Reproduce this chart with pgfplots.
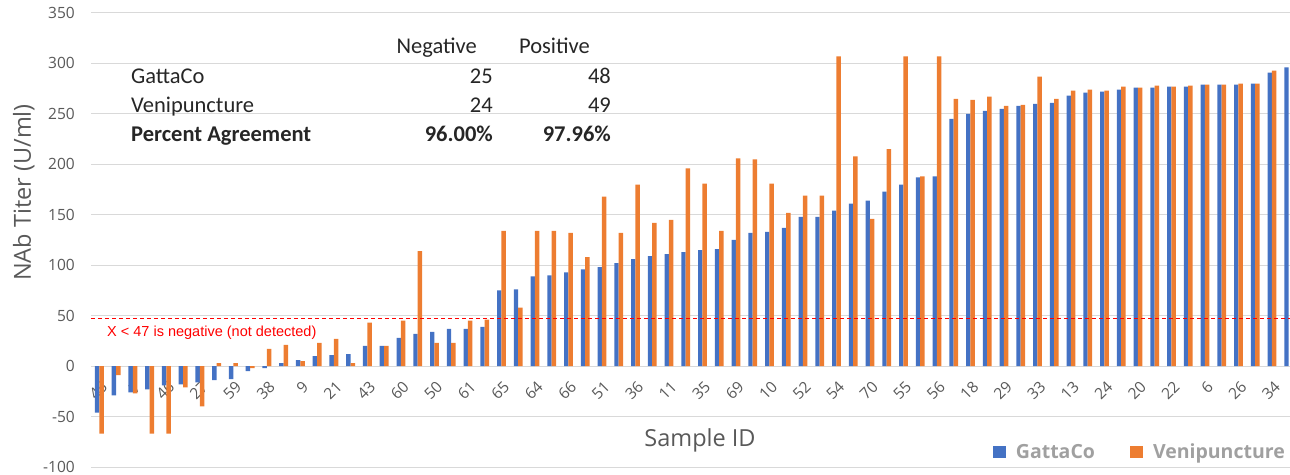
\documentclass[border=0pt]{standalone}
\usepackage{fontspec}
\usepackage{pgfplots}
\usepackage{pgfplotstable}
\pgfplotsset{compat=1.18}
\setmainfont{Open Sans}
\newfontfamily\carlito{Carlito}
\newfontfamily\arialf{Liberation Sans}
\definecolor{cblue}{HTML}{4472C4}
\definecolor{corange}{HTML}{ED7D31}
\definecolor{cgrid}{HTML}{D9D9D9}
\definecolor{ctext}{HTML}{595959}
\definecolor{clegend}{HTML}{A0A0A0}
\definecolor{ctab}{HTML}{262626}
\pgfplotsset{
  layers/labelsontop/.define layer set={
    axis background,axis grid,axis ticks,axis lines,main,axis tick labels,axis descriptions,axis foreground
  }{},
}

\pgfplotstableread{
x g v
0 -46 -67
1 -29 -9
2 -26 -27
3 -23 -67
4 -19 -67
5 -18 -21
6 -16 -40
7 -14 3
8 -13 3
9 -5 -2
10 -2 17
11 3 21
12 6 5
13 10 23
14 11 27
15 12 3
16 20 43
17 20 20
18 28 45
19 32 114
20 34 23
21 37 23
22 37 45
23 39 46
24 75 134
25 76 58
26 89 134
27 90 134
28 93 132
29 96 108
30 98 168
31 102 132
32 106 180
33 109 142
34 111 145
35 113 196
36 115 181
37 116 134
38 125 206
39 132 205
40 133 181
41 137 152
42 148 169
43 148 169
44 154 307
45 161 208
46 164 146
47 173 215
48 180 307
49 187 188
50 188 307
51 245 265
52 250 264
53 253 267
54 255 258
55 258 259
56 260 287
57 261 265
58 268 273
59 271 274
60 272 273
61 274 277
62 276 276
63 276 278
64 277 277
65 277 278
66 279 279
67 279 279
68 279 280
69 280 280
70 291 293
71 296 nan
}\datatable

\begin{document}
\begin{tikzpicture}
\begin{axis}[
  set layers=labelsontop,
  at={(91pt,7pt)}, anchor=south west,
  scale only axis, width=1199pt, height=454pt,
  xmin=-0.5, xmax=71.08, ymin=-100, ymax=350,
  axis x line*=middle, axis y line*=left,
  x axis line style={cgrid, line width=1pt},
  y axis line style={draw=none},
  major tick length=0pt,
  ytick={-100,-50,...,350},
  ymajorgrids, grid style={cgrid, line width=1pt},
  xtick={0,2,...,70},
  xticklabels={45,7,46,27,59,38,9,21,43,60,50,61,65,64,66,51,36,11,35,69,10,52,54,70,55,56,18,29,33,13,24,20,22,6,26,34},
  xticklabel style={xshift=5.3pt, yshift=-18.2pt, rotate=45, anchor=east, inner sep=0pt, font=\fontsize{15.5}{18}\selectfont, text=ctext},
  yticklabel style={font=\fontsize{15.5}{18}\selectfont, text=ctext, inner sep=0pt, xshift=-16pt},
  /pgf/number format/assume math mode=true,
  legend style={at={(rel axis cs:0.9975,0.033)}, anchor=east, draw=none, fill=none, inner sep=0pt,
    legend columns=-1, font=\bfseries\fontsize{19.5}{23}\selectfont, text=clegend,
    /tikz/every even column/.append style={column sep=33pt}},
  legend image code/.code={\fill[#1] (0pt,-6pt) rectangle (13pt,6pt); \path (21pt,0pt);},
]
\addplot[ybar, bar width=4.4pt, bar shift=-2.2pt, fill=cblue, draw=none] table[x=x,y=g]{\datatable};
\addlegendentry{GattaCo}
\addplot[ybar, bar width=4.4pt, bar shift=2.2pt, fill=corange, draw=none, unbounded coords=discard] table[x=x,y=v]{\datatable};
\addlegendentry{Venipuncture}
\addplot[red, line width=1.3pt, dash pattern=on 4pt off 3pt, forget plot] coordinates {(-0.5,47) (71.08,47)};
\end{axis}
\node[anchor=west, text=red, inner sep=0pt, font=\arialf\fontsize{14.5}{17}\selectfont] at (107pt,141pt) {X < 47 is negative (not detected)};
\node[rotate=90, anchor=base, text=ctext, inner sep=0pt, font=\fontsize{23.5}{28}\selectfont] at (31pt,281.5pt) {NAb Titer (U/ml)};
\node[anchor=base, text=ctext, inner sep=0pt, font=\fontsize{23.5}{28}\selectfont] at (700pt,28pt) {Sample ID};
\begin{scope}[every node/.style={inner sep=0pt, text=ctab, font=\carlito\fontsize{22.5}{27}\selectfont}]
\node[anchor=base east] at (477pt,420pt) {Negative};
\node[anchor=base east] at (590pt,420pt) {Positive};
\node[anchor=base west] at (131pt,390pt) {GattaCo};
\node[anchor=base east] at (493pt,390pt) {25};
\node[anchor=base east] at (611pt,390pt) {48};
\node[anchor=base west] at (131pt,361pt) {Venipuncture};
\node[anchor=base east] at (493pt,361pt) {24};
\node[anchor=base east] at (611pt,361pt) {49};
\node[anchor=base west] at (131pt,332pt) {\bfseries Percent Agreement};
\node[anchor=base east] at (493pt,332pt) {\bfseries 96.00\%};
\node[anchor=base east] at (611pt,332pt) {\bfseries 97.96\%};
\end{scope}
\pgfresetboundingbox
\path[use as bounding box] (0,0) rectangle (1290pt,474pt);
\end{tikzpicture}
\end{document}
